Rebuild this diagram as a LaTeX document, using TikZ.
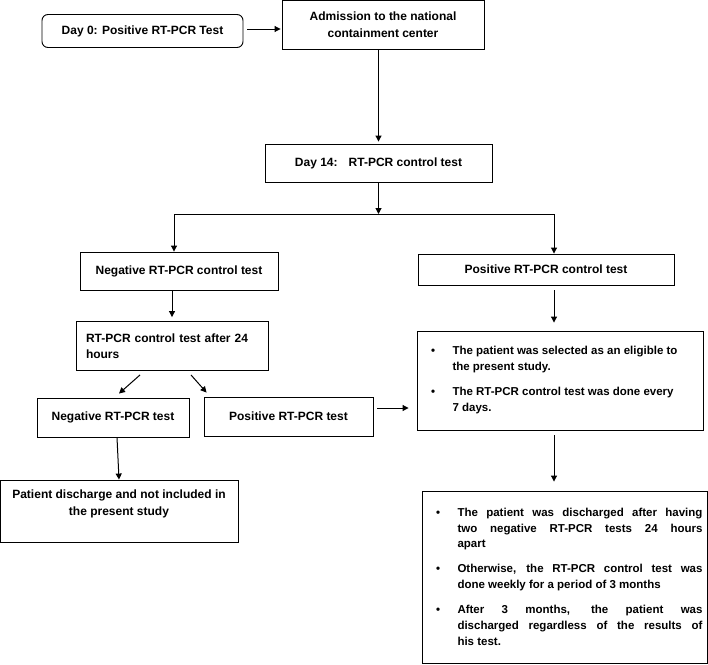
\documentclass[tikz,border=0pt]{standalone}
\usepackage{fontspec}
\setmainfont{Liberation Sans}
\usetikzlibrary{calc}
\usetikzlibrary{positioning}
\usetikzlibrary{arrows.meta}
\hbadness=10000
\newcommand{\boxfont}{\bfseries\fontsize{12}{16.5}\selectfont}
\newcommand{\listfont}{\bfseries\fontsize{11.5}{15.7}\selectfont}
\newcommand{\bulletitem}[2][9.4pt]{\par\vspace{#1}\hangindent=31pt\hangafter=1%
	\noindent\makebox[31pt][l]{\hspace{9.5pt}\textbullet}#2\par}
\tikzset{
thickline/.style={line width=1pt},
flowbox/.style 2 args={draw, line width=0.9pt, minimum width=#1pt, minimum height=#2pt,
	inner sep=0pt, align=center, font=\boxfont},
listbox/.style 2 args={draw, line width=0.9pt, text width=#1pt, minimum height=#2pt,
	inner xsep=4.5pt, inner ysep=0pt, align=justify, font=\listfont},
flowarrow/.style={thickline, -{Triangle[length=6pt,width=6pt]}},
}

\begin{document}
\begin{tikzpicture}[x=1pt, y=-1pt]
\useasboundingbox (0,0) rectangle (708,664);
%Place the nodes
\node[flowbox={201}{33}, rounded corners=6pt] (day0) at (142.5,31) {Day 0: Positive RT-PCR Test};
\node[flowbox={202}{49}] (admit) at (383,24.5) {Admission to the national\\containment center};
\node[flowbox={227}{38}] (day14) at (378.5,163) {Day 14:\hspace{11pt}RT-PCR control test};

\coordinate (forkleft) at (174,214);
\coordinate (forkright) at (554,214);

\node[flowbox={198}{38}] (negctl) at (179,271) {Negative RT-PCR control test};
\node[flowbox={256}{31}] (posctl) at (546,269.5) {Positive RT-PCR control test};

\node[flowbox={192}{49}, text width=172pt, inner xsep=10pt, align=left] (retest) at (172,346)
	{RT-PCR control test after 24\\hours};
\node[flowbox={152}{39}] (negtest) at (113,417.5) {Negative RT-PCR test};
\node[flowbox={169}{39}] (postest) at (288.5,416.5) {Positive RT-PCR test};
\node[flowbox={238}{62}] (discharge) at (119,511) {Patient discharge and not included in\\the present study\\~};

\node[listbox={277}{99}] (eligible) at (560,380.5) {%
	\bulletitem[0pt]{The patient was selected as an eligible to\newline the present study.}
	\bulletitem{The RT-PCR control test was done every\newline 7 days.}\kern8pt};
\node[listbox={276}{172}] (final) at (564.5,577) {%
	\bulletitem[0pt]{The patient was discharged after having\linebreak two negative RT-PCR tests 24 hours\linebreak apart}
	\bulletitem{Otherwise, the RT-PCR control test was\linebreak done weekly for a period of 3 months}
	\bulletitem{After 3 months, the patient was\linebreak discharged regardless of the results of\linebreak his test.}\kern8pt};

%Connect them
\draw[flowarrow, shorten <=4pt, shorten >=1pt] ([yshift=2pt]day0.east) -- ([yshift=2pt]day0.east -| admit.west);
\draw[flowarrow, shorten <=1pt, shorten >=2pt] (day14.north |- admit.south) -- (day14.north);
\draw[flowarrow, shorten <=1pt] (day14.south) -- (day14.south |- forkleft);
\draw[thickline] (forkleft) -- (forkright);
\draw[flowarrow] (forkleft) -- (forkleft |- negctl.north);
\draw[flowarrow] (forkright) -- (forkright |- posctl.north);

\draw[flowarrow, shorten <=1pt, shorten >=4pt] (retest.north |- negctl.south) -- (retest.north);
\draw[flowarrow] ([xshift=-32pt,yshift=-4pt]retest.south) -- ([xshift=6pt,yshift=4pt]negtest.north);
\draw[flowarrow] ([xshift=19pt,yshift=-4pt]retest.south) -- ([xshift=3pt,yshift=4pt]postest.north west);
\draw[flowarrow] ([xshift=4pt]negtest.south) -- (discharge.north);

\draw[flowarrow, shorten <=4pt, shorten >=8pt] ([yshift=8.5pt]postest.east) -- ([yshift=8.5pt]postest.east -| eligible.west);
\draw[flowarrow, shorten <=5pt, shorten >=8pt] (forkright |- posctl.south) -- (forkright |- eligible.north);
\draw[flowarrow, shorten <=5pt, shorten >=9pt] (forkright |- eligible.south) -- (forkright |- final.north);

\end{tikzpicture}
\end{document}
